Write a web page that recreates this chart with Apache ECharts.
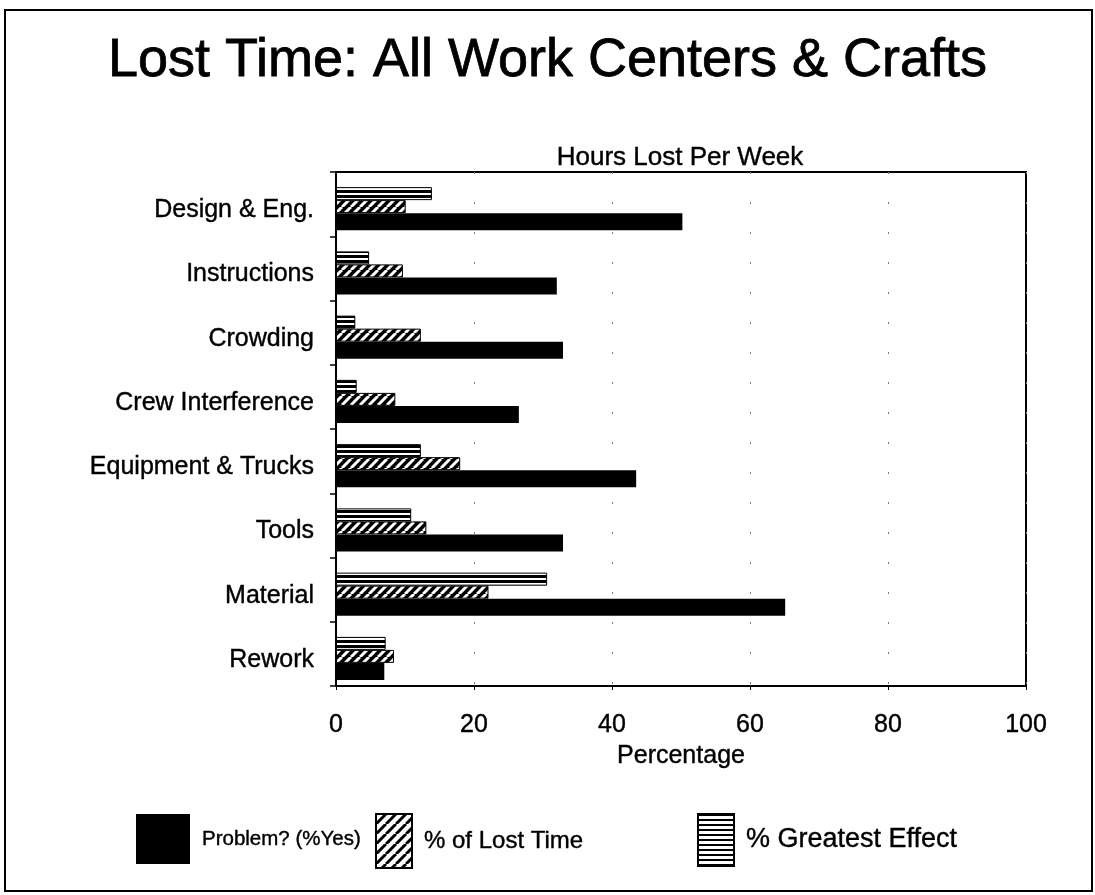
<!DOCTYPE html>
<html>
<head>
<meta charset="utf-8">
<title>Lost Time: All Work Centers &amp; Crafts</title>
<script src="https://cdn.jsdelivr.net/npm/echarts@6/dist/echarts.min.js"></script>
<style>
  html, body { margin: 0; padding: 0; background: #fff; }
  #chart { width: 1095px; height: 895px; }
</style>
</head>
<body>
<div id="chart"></div>
<script>
// Work-center problem categories, listed top to bottom
const categories = ['Design & Eng.', 'Instructions', 'Crowding', 'Crew Interference',
                    'Equipment & Trucks', 'Tools', 'Material', 'Rework'];
// Percentages per category
const problemYes     = [50.2, 32.0, 32.9, 26.5, 43.5, 32.9, 65.1, 7.0];
const lostTime       = [10.1, 9.7, 12.3, 8.6, 18.0, 13.1, 22.1, 8.4];
const greatestEffect = [13.9, 4.8, 2.8, 3.0, 12.3, 10.9, 30.6, 7.2];
// Value axis ticks
const xTicks = [0, 20, 40, 60, 80, 100];

const FONT = 'Liberation Sans, Arial, Helvetica, sans-serif';

// Diagonal hatch tile
function hatchTile(bg, fg, period, lineW) {
  const c = document.createElement('canvas');
  c.width = period; c.height = period;
  const g = c.getContext('2d');
  g.fillStyle = bg; g.fillRect(0, 0, period, period);
  g.strokeStyle = fg; g.lineWidth = lineW;
  g.beginPath();
  for (let k = -1; k <= 1; k++) {
    g.moveTo(k * period, period);
    g.lineTo(k * period + period, 0);
  }
  g.stroke();
  return { image: c, repeat: 'repeat' };
}
// Horizontal stripe tile
function stripeTile(dark, light) {
  const c = document.createElement('canvas');
  c.width = 4; c.height = dark + light;
  const g = c.getContext('2d');
  g.fillStyle = '#fff'; g.fillRect(0, 0, 4, dark + light);
  g.fillStyle = '#000'; g.fillRect(0, 0, 4, dark);
  return { image: c, repeat: 'repeat' };
}

const hatchBar = hatchTile('#000', '#fff', 9, 3);
const hatchKey = hatchTile('#fff', '#000', 10, 3);
const stripeBar = stripeTile(3, 2);
const stripeKey = stripeTile(2, 3);

const chart = echarts.init(document.getElementById('chart'), null, { renderer: 'canvas' });

// Slightly heavier text strokes
const ink = { color: '#000', fontFamily: FONT, textBorderColor: '#000', textBorderWidth: 0.4 };
const legendText = size => Object.assign({}, ink, { fontSize: size, padding: [0, 0, 0, 7] });

chart.setOption({
  backgroundColor: '#fff',
  animation: false,
  title: [
    {
      text: 'Lost Time: All Work Centers & Crafts',
      left: 'center', top: 34, padding: 0,
      textStyle: Object.assign({}, ink, { fontSize: 54, fontWeight: 'normal', textBorderWidth: 0.8 })
    },
    {
      text: 'Hours Lost Per Week',
      left: 680, top: 145, padding: 0, textAlign: 'center',
      textStyle: Object.assign({}, ink, { fontSize: 26, fontWeight: 'normal' })
    }
  ],
  legend: [
    {
      left: 136, top: 814, itemWidth: 54, itemHeight: 50, padding: 0,
      icon: 'rect', textStyle: legendText(20.5), selectedMode: false,
      data: [{ name: 'Problem? (%Yes)' }]
    },
    {
      left: 375, top: 813, itemWidth: 36, itemHeight: 54, padding: 0,
      icon: 'rect', textStyle: legendText(24), selectedMode: false,
      data: [{ name: '% of Lost Time', itemStyle: { color: hatchKey, borderColor: '#000', borderWidth: 2 } }]
    },
    {
      left: 697, top: 813, itemWidth: 36, itemHeight: 52, padding: 0,
      icon: 'rect', textStyle: legendText(27), selectedMode: false,
      data: [{ name: '% Greatest Effect', itemStyle: { color: stripeKey, borderColor: '#000', borderWidth: 2 } }]
    }
  ],
  grid: {
    left: 336, right: 69, top: 172, bottom: 209,
    show: true, borderColor: '#000', borderWidth: 2, backgroundColor: '#fff'
  },
  xAxis: {
    type: 'value',
    min: xTicks[0], max: xTicks[xTicks.length - 1], interval: xTicks[1] - xTicks[0],
    name: 'Percentage', nameLocation: 'middle', nameGap: 57,
    nameTextStyle: Object.assign({}, ink, { fontSize: 25 }),
    axisLine: { show: true, lineStyle: { color: '#000', width: 2 } },
    axisTick: { show: true, length: 4, lineStyle: { color: '#000' } },
    axisLabel: Object.assign({}, ink, { fontSize: 25, margin: 27 }),
    splitLine: { show: true, lineStyle: { color: '#777', width: 1, type: [2, 28] } }
  },
  yAxis: {
    type: 'category',
    data: categories,
    inverse: true,
    axisLine: { show: true, lineStyle: { color: '#000', width: 2 } },
    axisTick: { show: true, length: 6, lineStyle: { color: '#000', width: 1.5 } },
    // top-aligned with a short line box: labels sit a few pixels below the band centre
    axisLabel: Object.assign({}, ink, { fontSize: 25, margin: 22, verticalAlign: 'top', lineHeight: 12 }),
    splitLine: { show: false }
  },
  series: [
    {
      // empty leading slot: pushes each bar group a little below the band centre
      name: 'offset', type: 'bar', data: [],
      barWidth: 9, barGap: '0%', silent: true
    },
    {
      name: '% Greatest Effect', type: 'bar', data: greatestEffect,
      barWidth: 13, barGap: '0%',
      itemStyle: { color: stripeBar, borderColor: '#000', borderWidth: 1 }
    },
    {
      name: '% of Lost Time', type: 'bar', data: lostTime,
      barWidth: 13, barGap: '0%',
      itemStyle: { color: hatchBar, borderColor: '#000', borderWidth: 1 }
    },
    {
      name: 'Problem? (%Yes)', type: 'bar', data: problemYes,
      barWidth: 17, barGap: '0%',
      itemStyle: { color: '#000' }
    }
  ],
  graphic: [
    {
      type: 'rect', silent: true, z: 100,
      shape: { x: 5, y: 10, width: 1087, height: 881 },
      style: { fill: 'none', stroke: '#000', lineWidth: 2 }
    }
  ]
});
</script>
</body>
</html>
